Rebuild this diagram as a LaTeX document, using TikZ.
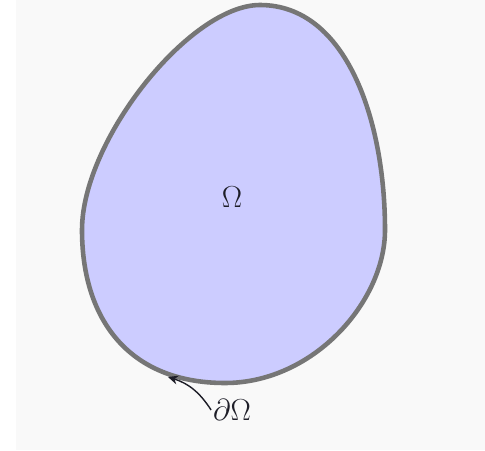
\documentclass[tikz,border=0pt]{standalone}
\usetikzlibrary{arrows.meta,positioning}
\definecolor{paper}{RGB}{249,249,249}
\definecolor{domain}{RGB}{204,204,255}
\definecolor{rim}{RGB}{118,118,118}
\definecolor{ink}{RGB}{30,30,40}
\tikzset{
  >={Stealth[length=2mm,width=1.8mm]},
  region/.style={fill=domain,draw=rim,line width=2.6pt},
  lbl/.style={font=\fontsize{18}{20}\selectfont,text=ink,inner sep=1pt},
  pointer/.style={->,thick,draw=ink},
}
\begin{document}
\begin{tikzpicture}
  \useasboundingbox (0,0) rectangle (9.7,9);
  \fill[paper] (0.32,0) rectangle (9.7,9);
  % the domain
  \draw[region] (5.2,8.9)
    .. controls (6.93,8.9) and (7.7,6.59) .. (7.7,4.4)
    .. controls (7.7,2.96) and (6.26,1.34) .. (4.5,1.34)
    .. controls (2.58,1.34) and (1.64,2.61) .. (1.64,4.4)
    .. controls (1.64,6.2) and (3.8,8.9) .. cycle;
  \node[lbl] (om) at (4.64,5.06) {$\Omega$};
  \node[lbl] (dom) at (4.64,0.8) {$\partial\Omega$};
  \coordinate (edge) at (3.36,1.46);
  \draw[pointer] (dom.west) to[bend right=20] (edge);
\end{tikzpicture}
\end{document}
